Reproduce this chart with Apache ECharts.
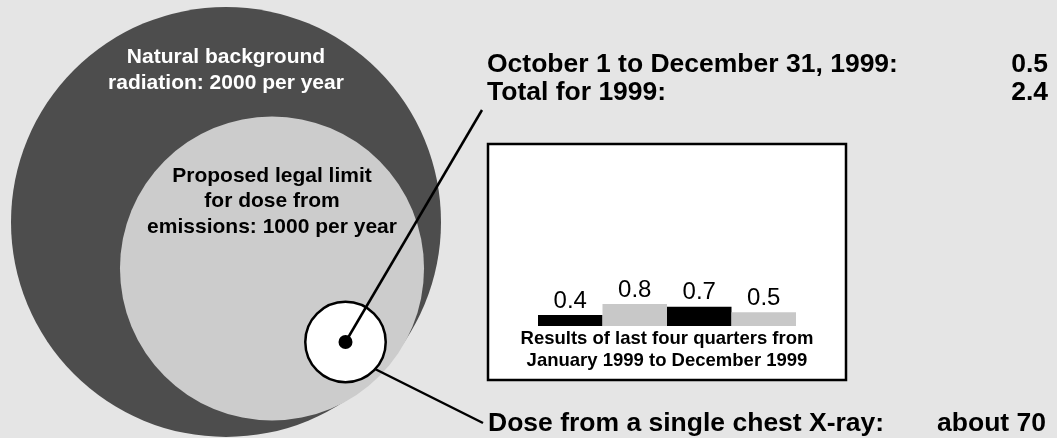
<!DOCTYPE html>
<html><head><meta charset="utf-8">
<script src="https://cdn.jsdelivr.net/npm/echarts@6/dist/echarts.min.js"></script>
<style>html,body{margin:0;padding:0;background:#e5e5e5}#c{width:1057px;height:438px}</style>
</head><body><div id="c"></div>
<script>
// ---- data ----
const circleNames = ['Natural background radiation', 'Proposed legal limit for dose from emissions', 'Dose from a single chest X-ray'];
const circleValues = [2000, 1000, 70];
const circleTexts = [['Natural background', 'radiation: 2000 per year'], ['Proposed legal limit', 'for dose from', 'emissions: 1000 per year']];
const quarterLabels = ['Jan-Mar 1999', 'Apr-Jun 1999', 'Jul-Sep 1999', 'Oct-Dec 1999'];
const quarterValues = [0.4, 0.8, 0.7, 0.5];
const summaryLabels = ['October 1 to December 31, 1999:', 'Total for 1999:'];
const summaryValues = ['0.5', '2.4'];
const xrayLabel = 'Dose from a single chest X-ray:';
const xrayValue = 'about 70';
const captionLines = ['Results of last four quarters from', 'January 1999 to December 1999'];

// ---- layout ----
const FONT = '"Liberation Sans", Arial, Helvetica, sans-serif';
const centers = [[226, 222], [272, 268.5], [345.5, 342]];
const maxR = 215;
const circleColors = ['#4d4d4d', '#cccccc', '#ffffff'];

const chart = echarts.init(document.getElementById('c'));
function txt(text, x, y, size, color, align, weight) {
  return { type: 'text', x: x, y: y, z: 100,
    style: { text: text, fill: color, font: (weight || 'bold') + ' ' + size + 'px ' + FONT,
      textAlign: align, textVerticalAlign: 'middle', align: align, verticalAlign: 'middle' } };
}
const graphics = [
  { type: 'rect', z: 0, shape: { x: 488, y: 144, width: 358, height: 236 },
    style: { fill: '#ffffff', stroke: '#000000', lineWidth: 2.5 } },
  { type: 'line', z: 50, shape: { x1: 345.5, y1: 342, x2: 482, y2: 110 }, style: { stroke: '#000', lineWidth: 2.5 } },
  { type: 'line', z: 50, shape: { x1: 375, y1: 369, x2: 483, y2: 423 }, style: { stroke: '#000', lineWidth: 2.5 } }
];
circleTexts[0].forEach((t, i) => graphics.push(txt(t, 226, 57 + i * 26, 21, '#ffffff', 'center')));
circleTexts[1].forEach((t, i) => graphics.push(txt(t, 272, 176 + i * 25.5, 21, '#000000', 'center')));
summaryLabels.forEach((t, i) => {
  graphics.push(txt(t, 487, 65 + i * 28, 26.5, '#000', 'left'));
  graphics.push(txt(summaryValues[i], 1048, 65 + i * 28, 26.5, '#000', 'right'));
});
graphics.push(txt(xrayLabel, 488, 424, 26.5, '#000', 'left'));
graphics.push(txt(xrayValue, 1046, 424, 26.5, '#000', 'right'));
captionLines.forEach((t, i) => graphics.push(txt(t, 667, 339 + i * 22, 18.5, '#000', 'center')));

chart.setOption({
  animation: false,
  backgroundColor: '#e5e5e5',
  grid: [
    { left: 0, top: 0, width: 1057, height: 438 },
    { left: 538, top: 216, width: 258, height: 110 }
  ],
  xAxis: [
    { type: 'value', min: 0, max: 1057, show: false, gridIndex: 0 },
    { type: 'category', data: quarterLabels, show: false, gridIndex: 1 }
  ],
  yAxis: [
    { type: 'value', min: 0, max: 438, inverse: true, show: false, gridIndex: 0 },
    { type: 'value', min: 0, max: 4, show: false, gridIndex: 1 }
  ],
  graphic: graphics,
  series: [
    { type: 'scatter', xAxisIndex: 0, yAxisIndex: 0, clip: false, silent: true, z: 2,
      symbol: 'circle',
      symbolSize: v => 2 * maxR * Math.sqrt(v[2] / circleValues[0]),
      data: circleValues.map((v, i) => ({ name: circleNames[i], value: [centers[i][0], centers[i][1], v],
        itemStyle: { color: circleColors[i], borderColor: i === 2 ? '#000' : 'transparent', borderWidth: i === 2 ? 2.5 : 0, opacity: 1 } })) },
    { type: 'scatter', xAxisIndex: 0, yAxisIndex: 0, clip: false, silent: true, z: 60,
      symbol: 'circle', symbolSize: 14, itemStyle: { color: '#000', opacity: 1 },
      data: [[centers[2][0], centers[2][1]]] },
    { type: 'bar', xAxisIndex: 1, yAxisIndex: 1, silent: true, z: 5,
      barCategoryGap: '0%',
      data: quarterValues,
      itemStyle: { color: p => (p.dataIndex % 2 === 0 ? '#000000' : '#c8c8c8') },
      label: { show: true, position: 'top', distance: 2, fontSize: 24, fontFamily: FONT, color: '#000',
        formatter: p => p.value.toFixed(1) } }
  ]
});
</script></body></html>
